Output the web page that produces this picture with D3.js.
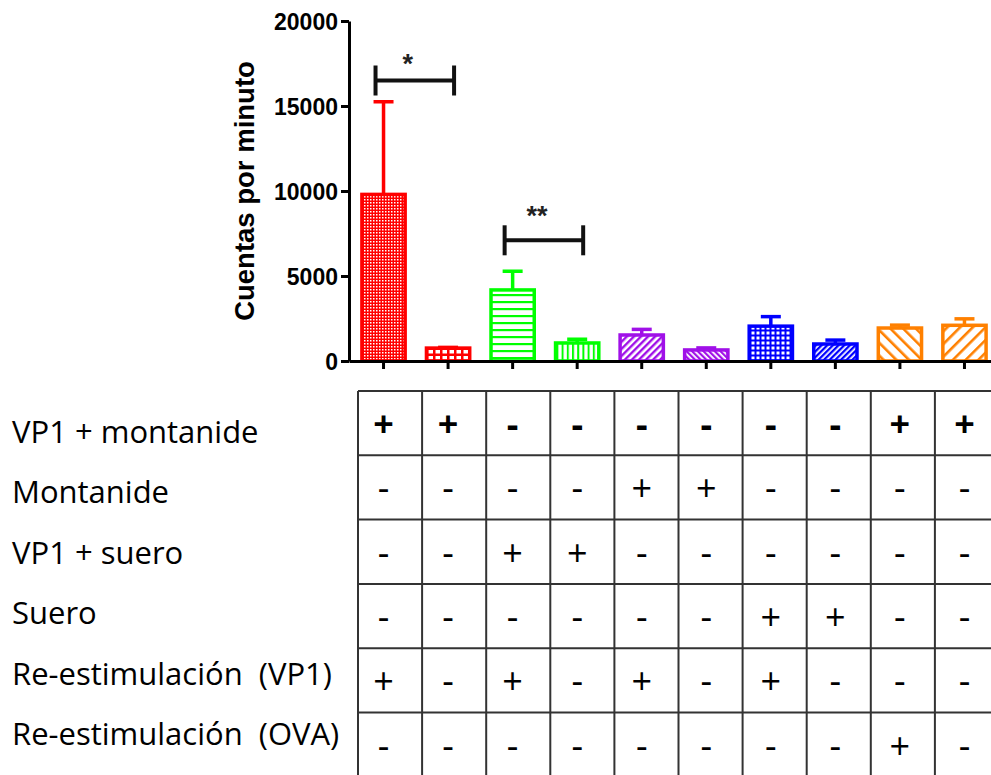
<!DOCTYPE html>
<html>
<head>
<meta charset="utf-8">
<script src="https://cdn.jsdelivr.net/npm/d3@7"></script>
<style>
html,body{margin:0;padding:0;background:#fff;}
svg{display:block;}
</style>
</head>
<body>
<svg id="chart" width="991" height="775"></svg>
<script>
// ---------- data ----------
const groups = ["G1","G2","G3","G4","G5","G6","G7","G8","G9","G10"];
const means  = [9800, 760, 4180, 1060, 1530, 650, 2050, 1000, 1940, 2100];
const errors = [5450,  40, 1100,  220,  330, 120,  560,  230,  170,  380];
const colors = ["#ff0000","#ff0000","#00ff00","#00ff00","#a010e8","#a010e8","#0000ff","#0000ff","#ff8000","#ff8000"];
const yTicks = [0, 5000, 10000, 15000, 20000];
const yLabel = "Cuentas por minuto";
const sigFrom = [0, 2];
const sigTo   = [1, 3];
const sigY    = [16500, 7100];
const sigText = ["*", "**"];
const rowLabels = ["VP1 + montanide","Montanide","VP1 + suero","Suero","Re-estimulación  (VP1)","Re-estimulación  (OVA)"];
const signs = [
  ["+","+","-","-","-","-","-","-","+","+"],
  ["-","-","-","-","+","+","-","-","-","-"],
  ["-","-","+","+","-","-","-","-","-","-"],
  ["-","-","-","-","-","-","+","+","-","-"],
  ["+","-","+","-","+","-","+","-","-","-"],
  ["-","-","-","-","-","-","-","-","+","-"]
];

// ---------- setup ----------
const svg = d3.select("#chart");
const W = 991, H = 775;
svg.append("rect").attr("width", W).attr("height", H).attr("fill", "#fff");

const y = d3.scaleLinear().domain([0, 20000]).range([361, 21]);
const x = d3.scaleBand().domain(groups).range([349, 999]).paddingInner(0.33).paddingOuter(0.2);
const cx = g => x(g) + x.bandwidth() / 2;

// ---------- patterns ----------
const defs = svg.append("defs");
function pat(id, w, h, rot) {
  const p = defs.append("pattern").attr("id", id).attr("patternUnits", "userSpaceOnUse")
    .attr("width", w).attr("height", h);
  if (rot) p.attr("patternTransform", `rotate(${rot})`);
  return p;
}
// 1 red fine dots
let p = pat("p0", 3, 3);
p.append("rect").attr("width", 3).attr("height", 3).attr("fill", colors[0]);
p.append("rect").attr("x", 1).attr("y", 1).attr("width", 1.5).attr("height", 1.5).attr("fill", "#fff");
// 2 red big squares
p = pat("p1", 7, 6);
p.append("rect").attr("width", 7).attr("height", 6).attr("fill", colors[1]);
p.append("rect").attr("x", 1.5).attr("y", 2).attr("width", 4.5).attr("height", 3.5).attr("fill", "#fff");
// 3 green horizontal lines
p = pat("p2", 7, 7);
p.append("rect").attr("width", 7).attr("height", 7).attr("fill", "#fff");
p.append("rect").attr("y", 0).attr("width", 7).attr("height", 2.2).attr("fill", colors[2]);
// 4 green vertical lines
p = pat("p3", 5.2, 5);
p.append("rect").attr("width", 5.2).attr("height", 5).attr("fill", "#fff");
p.append("rect").attr("x", 0).attr("width", 2).attr("height", 5).attr("fill", colors[3]);
// 5 purple "/" lines
p = pat("p4", 5, 5, 45);
p.append("rect").attr("width", 5).attr("height", 5).attr("fill", "#fff");
p.append("rect").attr("width", 2.4).attr("height", 5).attr("fill", colors[4]);
// 6 purple "\" lines dense
p = pat("p5", 4, 4, -45);
p.append("rect").attr("width", 4).attr("height", 4).attr("fill", "#fff");
p.append("rect").attr("width", 2.2).attr("height", 4).attr("fill", colors[5]);
// 7 blue grid
p = pat("p6", 5, 5);
p.append("rect").attr("width", 5).attr("height", 5).attr("fill", colors[6]);
p.append("rect").attr("x", 1.5).attr("y", 1.5).attr("width", 3).attr("height", 3).attr("fill", "#fff");
// 8 blue "/" dense
p = pat("p7", 4, 4, 45);
p.append("rect").attr("width", 4).attr("height", 4).attr("fill", "#fff");
p.append("rect").attr("width", 2.3).attr("height", 4).attr("fill", colors[7]);
// 9 orange "\" wide
p = pat("p8", 9, 9, -45);
p.append("rect").attr("width", 9).attr("height", 9).attr("fill", "#fff");
p.append("rect").attr("width", 2.6).attr("height", 9).attr("fill", colors[8]);
// 10 orange "/" wide
p = pat("p9", 9, 9, 45);
p.append("rect").attr("width", 9).attr("height", 9).attr("fill", "#fff");
p.append("rect").attr("width", 2.6).attr("height", 9).attr("fill", colors[9]);

// ---------- error bars ----------
const capW = 20;
const eb = svg.append("g");
groups.forEach((g, i) => {
  eb.append("line").attr("x1", cx(g)).attr("x2", cx(g))
    .attr("y1", y(means[i])).attr("y2", y(means[i] + errors[i]))
    .attr("stroke", colors[i]).attr("stroke-width", 3.5);
  eb.append("line").attr("x1", cx(g) - capW / 2).attr("x2", cx(g) + capW / 2)
    .attr("y1", y(means[i] + errors[i])).attr("y2", y(means[i] + errors[i]))
    .attr("stroke", colors[i]).attr("stroke-width", 3.5);
});

// ---------- bars ----------
svg.append("g").selectAll("rect").data(groups).join("rect")
  .attr("x", d => x(d))
  .attr("y", (d, i) => y(means[i]))
  .attr("width", x.bandwidth())
  .attr("height", (d, i) => y(0) - y(means[i]))
  .attr("fill", (d, i) => `url(#p${i})`)
  .attr("stroke", (d, i) => colors[i])
  .attr("stroke-width", 3.5);

// ---------- axes ----------
const yAxis = svg.append("g").attr("transform", "translate(349,0)")
  .call(d3.axisLeft(y).tickValues(yTicks).tickFormat(d3.format("d")).tickSize(8).tickPadding(3).tickSizeOuter(0));
yAxis.select(".domain").attr("stroke", "#000").attr("stroke-width", 3);
yAxis.selectAll(".tick line").attr("stroke", "#000").attr("stroke-width", 3);
yAxis.selectAll(".tick text").attr("font-family", "Liberation Sans, Arial, sans-serif")
  .attr("font-weight", "bold").attr("font-size", 23).attr("fill", "#000").attr("dy", "0.36em");

const xAxis = svg.append("g").attr("transform", "translate(0,361)")
  .call(d3.axisBottom(x).tickFormat("").tickSize(8).tickSizeOuter(0));
xAxis.select(".domain").attr("stroke", "#000").attr("stroke-width", 3);
xAxis.selectAll(".tick line").attr("stroke", "#000").attr("stroke-width", 3);

svg.append("text").attr("transform", "translate(254,191) rotate(-90)")
  .attr("text-anchor", "middle")
  .attr("font-family", "Liberation Sans, Arial, sans-serif").attr("font-weight", "bold")
  .attr("font-size", 27.5).attr("fill", "#000").text(yLabel);

// ---------- significance brackets ----------
const sg = svg.append("g");
const labOff = [10, 17];
sigFrom.forEach((f, i) => {
  const x1 = cx(groups[f]) - 8, x2 = cx(groups[sigTo[i]]) + 6, yy = y(sigY[i]);
  sg.append("line").attr("x1", x1).attr("x2", x2).attr("y1", yy).attr("y2", yy).attr("stroke", "#111").attr("stroke-width", 4);
  [x1, x2].forEach(xx => sg.append("line").attr("x1", xx).attr("x2", xx).attr("y1", yy - 15).attr("y2", yy + 15)
    .attr("stroke", "#111").attr("stroke-width", 4));
  sg.append("text").attr("x", (x1 + x2) / 2 - 7).attr("y", yy - labOff[i] + 2)
    .attr("text-anchor", "middle").attr("font-family", "Liberation Sans, Arial, sans-serif")
    .attr("font-weight", "bold").attr("font-size", 27).attr("fill", "#222").text(sigText[i]);
});

// ---------- table ----------
const tx = d3.scaleBand().domain(groups).range([358, 358 + 64.1 * 10]);
const ty = d3.scaleBand().domain(d3.range(rowLabels.length)).range([391, 391 + 64.3 * 6]);
const tg = svg.append("g");
ty.domain().forEach(r => {
  tg.append("line").attr("x1", 358).attr("x2", W).attr("y1", ty(r)).attr("y2", ty(r))
    .attr("stroke", "#333").attr("stroke-width", 2);
});
tg.append("line").attr("x1", 358).attr("x2", W).attr("y1", ty(5) + ty.bandwidth()).attr("y2", ty(5) + ty.bandwidth())
  .attr("stroke", "#333").attr("stroke-width", 2);
groups.forEach(g => {
  tg.append("line").attr("x1", tx(g)).attr("x2", tx(g)).attr("y1", 391).attr("y2", H)
    .attr("stroke", "#333").attr("stroke-width", 2);
});
signs.forEach((row, r) => {
  row.forEach((s, c) => {
    tg.append("text").attr("x", cx(groups[c])).attr("y", ty(r) + ty.bandwidth() / 2 + 14)
      .attr("text-anchor", "middle").attr("font-family", "Open Sans, sans-serif")
      .attr("font-weight", r === 0 ? "bold" : "normal")
      .attr("font-size", 36).attr("fill", "#000").text(s);
  });
});

// row labels
const ly = d3.scalePoint().domain(d3.range(rowLabels.length)).range([443, 745]);
svg.append("g").selectAll("text").data(rowLabels).join("text")
  .attr("x", 12).attr("y", (d, i) => ly(i))
  .attr("font-family", "Open Sans, sans-serif").attr("font-size", 31).attr("fill", "#000")
  .attr("xml:space", "preserve").style("white-space", "pre")
  .text(d => d);
</script>
</body>
</html>
